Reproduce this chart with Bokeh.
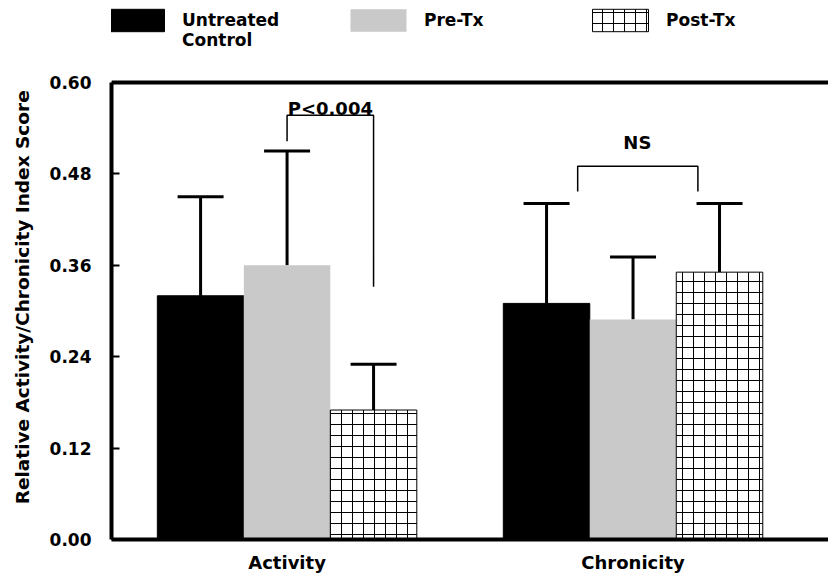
from bokeh.plotting import figure
from bokeh.layouts import row
from bokeh.models import (Range1d, FixedTicker, NumeralTickFormatter, Whisker, TeeHead,
                          Legend, LegendItem, ColumnDataSource, Span)
from bokeh.core.properties import value
from bokeh.embed import file_html
from bokeh.resources import INLINE
import math

# ---------------- data ----------------
groups = ["Activity", "Chronicity"]
series = ["Untreated\nControl", "Pre-Tx", "Post-Tx"]
untreated_mean = [0.320, 0.310]
pretx_mean = [0.360, 0.289]
posttx_mean = [0.170, 0.351]
untreated_sd = [0.130, 0.131]
pretx_sd = [0.150, 0.082]
posttx_sd = [0.060, 0.090]
y_ticks = [0.0, 0.12, 0.24, 0.36, 0.48, 0.60]
y_title = "Relative Activity/Chronicity Index Score"

# significance annotations
p_text = "P<0.004"
p_bracket_x = [1.0, 1.0, 2.0, 2.0]
p_bracket_y = [0.523, 0.557, 0.557, 0.332]
p_text_pos = (1.5, 0.566)
ns_text = "NS"
ns_bracket_x = [4.36, 4.36, 5.75, 5.75]
ns_bracket_y = [0.457, 0.490, 0.490, 0.457]
ns_text_pos = (5.05, 0.521)

means = [untreated_mean, pretx_mean, posttx_mean]
sds = [untreated_sd, pretx_sd, posttx_sd]
styles = [
    dict(fill_color="black", line_color="black"),
    dict(fill_color="#c9c9c9", line_color=None),
    dict(fill_color="white", line_color="black", line_width=1,
         hatch_pattern="+", hatch_color="black", hatch_scale=11, hatch_weight=1),
]

FONT = "DejaVu Sans"
STRIDE = len(series) + 1
Y_MAX = y_ticks[-1]
yr = Range1d(0, 0.7077)   # frame also holds the legend strip above 0.60

# ---------------- y title strip ----------------
yt = figure(width=38, height=577, output_backend="svg", toolbar_location=None,
            x_range=Range1d(0, 38), y_range=yr,
            min_border_left=0, min_border_right=0, min_border_top=0,
            min_border_bottom=38)
yt.axis.visible = False
yt.grid.visible = False
yt.outline_line_color = None
yt.text(x=[22], y=[0.318], text=[y_title], angle=math.pi / 2,
        text_font=value(FONT), text_font_style="bold", text_font_size="18.5px",
        text_align="center", text_baseline="middle", text_color="black")

# ---------------- main chart ----------------
p = figure(width=790, height=577, output_backend="svg", toolbar_location=None,
           x_range=Range1d(-1.03, 7.26), y_range=yr,
           min_border_left=73, min_border_right=0, min_border_top=0,
           min_border_bottom=38)
p.grid.visible = False
p.outline_line_color = None
p.background_fill_color = "white"

renderers = []
for si, name in enumerate(series):
    xs = [gi * STRIDE + si for gi in range(len(groups))]
    src = ColumnDataSource(dict(x=xs, top=means[si],
                                up=[m + s for m, s in zip(means[si], sds[si])]))
    r = p.vbar(x="x", top="top", bottom=0, width=1.0, source=src, **styles[si])
    renderers.append(r)
    w = Whisker(source=src, base="x", lower="top", upper="up", dimension="height",
                line_width=3, line_color="black", lower_head=None,
                upper_head=TeeHead(size=46, line_width=3, line_color="black"))
    p.add_layout(w)

# brackets
p.line(p_bracket_x, p_bracket_y, line_color="black", line_width=1.5)
p.line(ns_bracket_x, ns_bracket_y, line_color="black", line_width=1.5)
for txt, pos in [(p_text, p_text_pos), (ns_text, ns_text_pos)]:
    p.text(x=[pos[0]], y=[pos[1]], text=[txt], text_font=value(FONT),
           text_font_style="bold", text_font_size="18px", text_align="center",
           text_baseline="alphabetic", text_color="black")

# top border of the plotting box
p.add_layout(Span(location=Y_MAX, dimension="width", line_color="black",
                  line_width=4))

# y axis
ya = p.yaxis[0]
ya.bounds = (0, Y_MAX)
ya.ticker = FixedTicker(ticks=y_ticks)
ya.formatter = NumeralTickFormatter(format="0.00")
ya.major_label_text_font = FONT
ya.major_label_text_font_style = "bold"
ya.major_label_text_font_size = "17px"
ya.major_label_text_color = "black"
ya.major_label_standoff = 20
ya.major_tick_in = 8
ya.major_tick_out = 0
ya.major_tick_line_width = 2
ya.minor_tick_line_color = None
ya.axis_line_width = 4

# x axis
xa = p.xaxis[0]
centers = [gi * STRIDE + (len(series) - 1) / 2 for gi in range(len(groups))]
xa.ticker = FixedTicker(ticks=centers)
xa.major_label_overrides = {c: g for c, g in zip(centers, groups)}
xa.major_label_text_font = FONT
xa.major_label_text_font_style = "bold"
xa.major_label_text_font_size = "18px"
xa.major_label_text_color = "black"
xa.major_label_standoff = 12
xa.major_tick_in = 0
xa.major_tick_out = 0
xa.minor_tick_line_color = None
xa.axis_line_width = 4

# legend: a leading blank line keeps the first label line level with the swatch
legend = Legend(items=[LegendItem(label="\n" + s if "\n" in s else s, renderers=[r])
                       for s, r in zip(series, renderers)],
                orientation="horizontal", location="top_left",
                glyph_width=70, glyph_height=28, label_standoff=11, label_width=161,
                spacing=0, padding=0, margin=-10, border_line_color=None,
                background_fill_alpha=0,
                label_text_font=FONT, label_text_font_style="bold",
                label_text_color="black",
                label_text_font_size="17px")
p.add_layout(legend)

layout = row(yt, p, spacing=0)
open("out.html", "w").write(file_html(layout, INLINE))
